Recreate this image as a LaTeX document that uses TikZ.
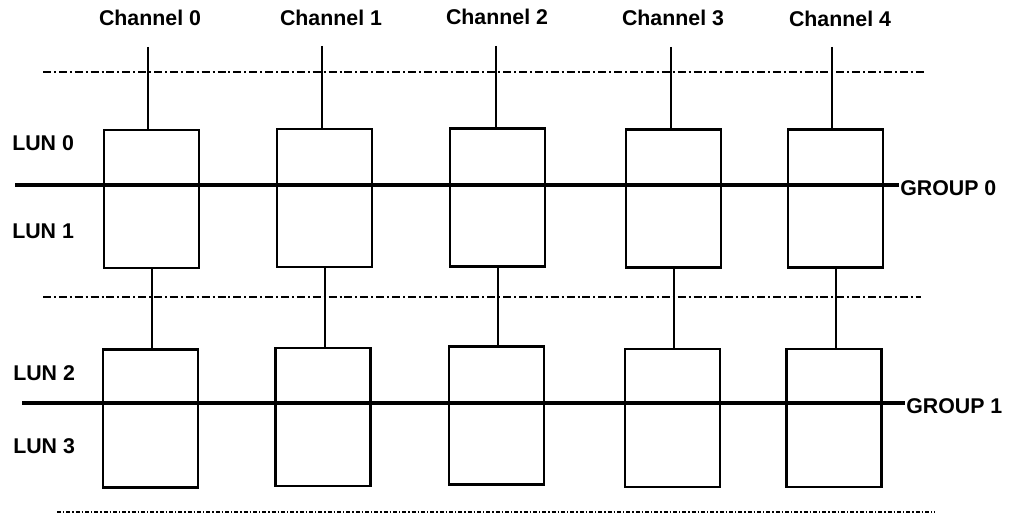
\documentclass[tikz,border=0pt]{standalone}
\usepackage{fontspec}
\setmainfont{Liberation Sans}
\usepackage{tikz}
\usetikzlibrary{positioning}

\tikzset{
    lunbox/.style={draw, line width=1.6pt, minimum width=71.25pt, minimum height=103.5pt, inner sep=0pt},
    lbl/.style={inner sep=0.75pt, font=\bfseries\fontsize{16}{18}\selectfont},
    busline/.style={line width=3pt},
    sepline/.style={line width=1.4pt, dash pattern=on 6pt off 2.2pt on 1.5pt off 2.2pt},
    sepdense/.style={line width=2pt, dash pattern=on 3pt off 1.5pt on 1pt off 1.5pt},
    wire/.style={line width=1.5pt}
}

\begin{document}
\begin{tikzpicture}[x=0.75pt,y=0.75pt,yscale=-1,xscale=1]
        \useasboundingbox (0,0) rectangle (1011,516);
        %Separators
        \coordinate (s0l) at (43,72);   \coordinate (s0r) at (924,72);
        \coordinate (s1l) at (43,297);  \coordinate (s1r) at (921,297);
        \coordinate (s2l) at (57,512);  \coordinate (s2r) at (935,512);
        \draw [sepline] (s0l) -- (s0r);
        \draw [sepline] (s1l) -- (s1r);
        \draw [sepdense] (s2l) -- (s2r);
        %Upper LUN boxes
        \node [lunbox] (b0a) at (151.5,199) {};
        \node [lunbox] (b1a) at (324.5,198) {};
        \node [lunbox] (b2a) at (497.5,197.5) {};
        \node [lunbox] (b3a) at (673.5,198.5) {};
        \node [lunbox] (b4a) at (835.5,198.5) {};
        %Lower LUN boxes
        \node [lunbox] (b0b) at (150.5,418.5) {};
        \node [lunbox] (b1b) at (323,417) {};
        \node [lunbox] (b2b) at (496.5,415.5) {};
        \node [lunbox] (b3b) at (672.5,418) {};
        \node [lunbox] (b4b) at (834,418) {};
        % Text Node
        \node [lbl] (ch0) at (150,18) {Channel 0};
        \node [lbl] (ch1) at (331,18) {Channel 1};
        \node [lbl] (ch2) at (497,17) {Channel 2};
        \node [lbl] (ch3) at (673,18) {Channel 3};
        \node [lbl] (ch4) at (840,19) {Channel 4};
        %Channel wires
        \coordinate (t0) at (148,47);
        \coordinate (t1) at (322,46);
        \coordinate (t2) at (496,46);
        \coordinate (t3) at (671,47);
        \coordinate (t4) at (832,47);
        \draw [wire] (t0) -- (t0 |- b0a.north);
        \draw [wire] (t1) -- (t1 |- b1a.north);
        \draw [wire] (t2) -- (t2 |- b2a.north);
        \draw [wire] (t3) -- (t3 |- b3a.north);
        \draw [wire] (t4) -- (t4 |- b4a.north);
        \draw [wire] (b0a.south) -- (b0a.south |- b0b.north);
        \draw [wire] (b1a.south) -- (b1a.south |- b1b.north);
        \draw [wire] (b2a.south) -- (b2a.south |- b2b.north);
        \draw [wire] (b3a.south) -- (b3a.south |- b3b.north);
        \draw [wire] (b4a.south) -- (b4a.south |- b4b.north);
        % Text Node
        \node [lbl, anchor=west] (grp0) at (899,188) {GROUP 0};
        \node [lbl, anchor=west] (grp1) at (905,406) {GROUP 1};
        %Group buses
        \coordinate (g0) at (15,185);
        \coordinate (g1) at (22,403);
        \draw [busline] (g0) -- (g0 -| grp0.west);
        \draw [busline] (g1) -- (g1 -| grp1.west);
        % Text Node
        \node [lbl, anchor=west] (lun0) at (11,143) {LUN 0};
        \node [lbl, anchor=west] (lun1) at (11,231) {LUN 1};
        \node [lbl, anchor=west] (lun2) at (12,373) {LUN 2};
        \node [lbl, anchor=west] (lun3) at (12,446) {LUN 3};
    \end{tikzpicture}
\end{document}
